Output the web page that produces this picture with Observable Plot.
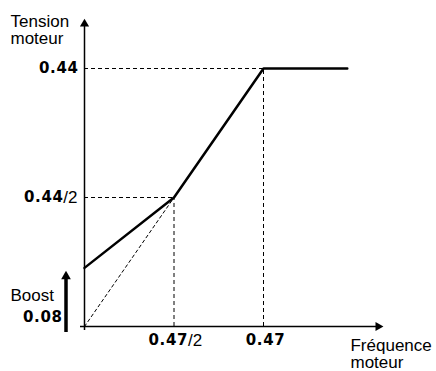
<!DOCTYPE html>
<html>
<head>
<meta charset="utf-8">
<script src="https://cdn.jsdelivr.net/npm/d3@7"></script>
<script src="https://cdn.jsdelivr.net/npm/@observablehq/plot@0.6"></script>
<style>
  html, body { margin: 0; padding: 0; background: #fff; }
  g[font-weight="bold"] text { letter-spacing: 0.6px; }
</style>
</head>
<body>
<div id="chart"></div>
<script>
// Motor voltage (y) vs motor frequency (x)
const curveFreq = [0, 0.235, 0.47, 0.69];
const curveVolt = [0.10, 0.22, 0.44, 0.44];
const dashedDiagFreq = [0, 0.235];
const dashedDiagVolt = [0, 0.22];
const xTickValues = [0.235, 0.47];
const xTickBold = ["0.47", "0.47"];
const xTickSuffix = ["/2", ""];
const yTickValues = [0.22, 0.44];
const yTickBold = ["0.44", "0.44"];
const yTickSuffix = ["/2", ""];
const xAxisEnd = 0.785;
const yAxisEnd = 0.525;
const boostLabel = "0.08";
const boostArrowTop = 0.095;

const curve = curveFreq.map((x, i) => ({x, y: curveVolt[i]}));
const diag = dashedDiagFreq.map((x, i) => ({x, y: dashedDiagVolt[i]}));
const xt = xTickValues.map((v, i) => ({v, b: xTickBold[i], s: xTickSuffix[i], other: yTickValues[i]}));
const yt = yTickValues.map((v, i) => ({v, b: yTickBold[i], s: yTickSuffix[i], other: xTickValues[i]}));
const xtHalf = xt.filter(d => d.s), xtFull = xt.filter(d => !d.s);
const ytHalf = yt.filter(d => d.s), ytFull = yt.filter(d => !d.s);

const sans = "Liberation Sans, Arial, Helvetica, sans-serif";
const bold = "DejaVu Sans, Verdana, sans-serif";
const dash = "4,3";
const B = {fontFamily: bold, fontWeight: "bold", fontSize: 15, fill: "black"};
const N = {fontFamily: sans, fontSize: 17, fill: "black"};

const chart = Plot.plot({
  width: 436,
  height: 371,
  margin: 0,
  x: {domain: [0, 0.47], range: [84, 263], axis: null},
  y: {domain: [0, 0.44], range: [326, 68], axis: null},
  style: {background: "#fff"},
  marks: [
    // dashed guides
    Plot.ruleY(yt, {y: "v", x1: 0, x2: "other", stroke: "black", strokeWidth: 1, strokeDasharray: dash}),
    Plot.ruleX(xt, {x: "v", y1: 0, y2: "other", stroke: "black", strokeWidth: 1, strokeDasharray: dash}),
    Plot.line(diag, {x: "x", y: "y", stroke: "black", strokeWidth: 1, strokeDasharray: "3,3"}),
    // axes
    Plot.ruleX([0], {y1: 0, y2: yAxisEnd, stroke: "black", strokeWidth: 1.5, dy: 4}),
    Plot.ruleY([0], {x1: 0, x2: xAxisEnd, stroke: "black", strokeWidth: 1.5, dx: -4}),
    Plot.dot([{x: 0, y: yAxisEnd}], {x: "x", y: "y", symbol: "triangle", r: 3.4, fill: "black", stroke: "none", dy: 5.3}),
    Plot.dot([{x: xAxisEnd, y: 0}], {x: "x", y: "y", symbol: "triangle", r: 3.4, fill: "black", stroke: "none", rotate: 90, dx: -5.3}),
    // main curve
    Plot.line(curve, {x: "x", y: "y", stroke: "black", strokeWidth: 2.5, strokeLinejoin: "miter"}),
    // boost arrow
    Plot.ruleX([0], {y1: 0, y2: boostArrowTop, dx: -18.5, dy: 6, stroke: "black", strokeWidth: 3.5}),
    Plot.dot([{x: 0, y: boostArrowTop}], {x: "x", y: "y", symbol: "triangle", r: 3.6, fill: "black", stroke: "none", dx: -18.5, dy: 5.6}),
    // y tick labels
    Plot.text(ytFull, {x: 0, y: "v", text: "b", textAnchor: "end", dx: -6, ...B}),
    Plot.text(ytHalf, {x: 0, y: "v", text: "s", textAnchor: "end", dx: -7, ...N}),
    Plot.text(ytHalf, {x: 0, y: "v", text: "b", textAnchor: "end", dx: -21, ...B}),
    // x tick labels
    Plot.text(xtFull, {x: "v", y: 0, text: "b", textAnchor: "middle", dx: 2, dy: 14, ...B}),
    Plot.text(xtHalf, {x: "v", y: 0, text: "b", textAnchor: "end", dx: 14, dy: 14, ...B}),
    Plot.text(xtHalf, {x: "v", y: 0, text: "s", textAnchor: "start", dx: 14, dy: 14, ...N}),
    // axis titles
    Plot.text(["Tension\nmoteur"], {x: 0, y: 0.44, text: d => d, textAnchor: "start", lineAnchor: "top", dx: -74, dy: -54, lineHeight: 1.0, ...N}),
    Plot.text(["Fréquence\nmoteur"], {x: xAxisEnd, y: 0, text: d => d, textAnchor: "start", lineAnchor: "top", dx: -33, dy: 12, lineHeight: 1.0, ...N}),
    Plot.text(["Boost"], {x: 0, y: 0, text: d => d, textAnchor: "start", dx: -74, dy: -31, ...N}),
    Plot.text([boostLabel], {x: 0, y: 0, text: d => d, textAnchor: "end", dx: -22, dy: -9, ...B})
  ]
});
document.getElementById("chart").appendChild(chart);
</script>
</body>
</html>
